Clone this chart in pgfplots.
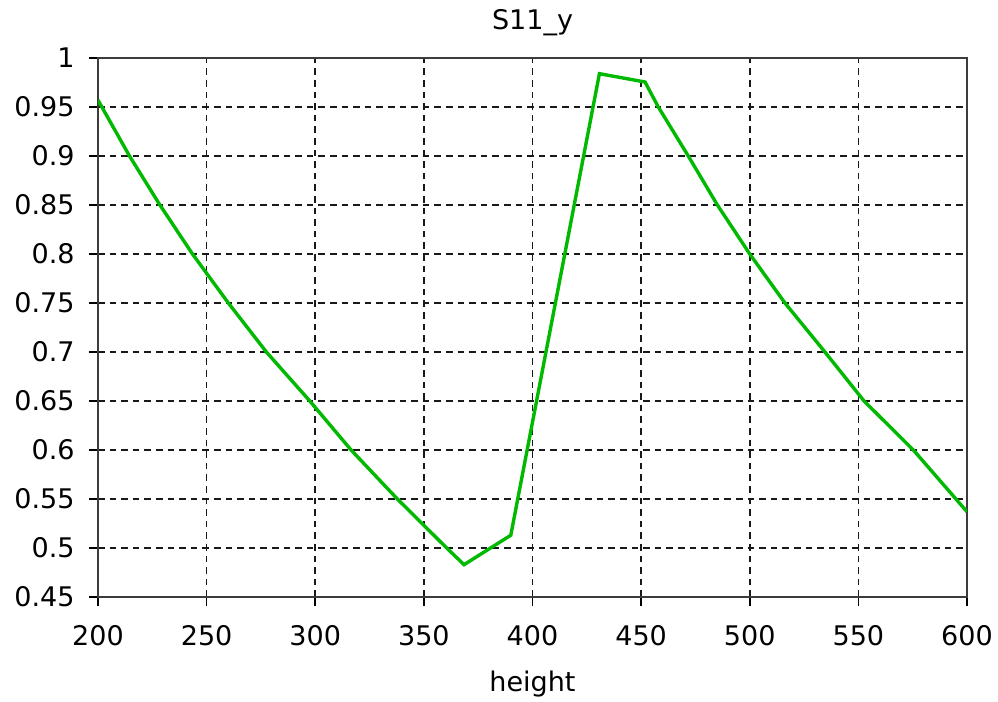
\documentclass[border=0pt]{standalone}
\usepackage{fontspec}
\setmainfont{DejaVu Sans}
\usepackage{pgfplots}
\pgfplotsset{compat=1.18}
\definecolor{linegreen}{RGB}{0,185,0}
\definecolor{axgray}{RGB}{60,60,60}
\begin{document}
\fontsize{13.5pt}{16pt}\selectfont
\begin{tikzpicture}
\begin{axis}[
  scale only axis,
  width=434.5pt, height=269.5pt,
  xmin=200, xmax=600, ymin=0.45, ymax=1,
  xtick={200,250,...,600},
  ytick={0.45,0.5,0.55,0.6,0.65,0.7,0.75,0.8,0.85,0.9,0.95,1},
  xtick pos=bottom, ytick pos=left,
  /pgf/number format/assume math mode=true,
  yticklabel style={/pgf/number format/fixed, /pgf/number format/precision=2, xshift=-2.5pt},
  xticklabel style={yshift=-5pt},
  tick label style={font=\fontsize{13.5pt}{16pt}\selectfont},
  tick align=outside,
  major tick length=4.5pt,
  tick style={black, line width=0.8pt},
  axis line style={axgray, line width=1.1pt},
  grid=major,
  major grid style={black!90, line width=0.85pt, dash pattern=on 3.3pt off 2.5pt},
  title={S11\_y},
  title style={anchor=base, at={(axis description cs:0.5,1)}, yshift=8.5pt, font=\fontsize{13.5pt}{16pt}\selectfont},
  xlabel={height},
  xlabel style={anchor=base, at={(axis description cs:0.5,0)}, yshift=-47pt, font=\fontsize{13.5pt}{16pt}\selectfont},
]
\addplot[linegreen, line width=1.7pt] coordinates {
(200,0.957) (214.5,0.9) (228.5,0.85) (243.5,0.8) (260,0.75) (277.5,0.7)
(297.5,0.65) (316.5,0.6) (337.8,0.55) (360.5,0.5) (368.5,0.483)
(390,0.513) (430.8,0.984) (451.8,0.9755) (457.9,0.95) (471.7,0.9)
(485.1,0.85) (500,0.8) (516.2,0.75) (534.6,0.7) (552.6,0.65)
(575.3,0.6) (594.9,0.55) (600,0.537)
};
\end{axis}
\pgfresetboundingbox
\path[use as bounding box] ([xshift=-49pt,yshift=-52pt]current axis.south west) rectangle ([xshift=15.5pt,yshift=29pt]current axis.north east);
\end{tikzpicture}
\end{document}
